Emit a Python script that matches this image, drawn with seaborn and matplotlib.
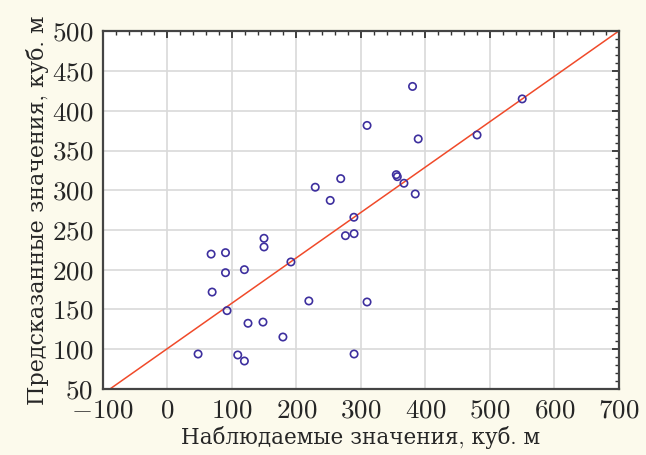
import matplotlib
matplotlib.use("Agg")
import matplotlib.pyplot as plt
import seaborn as sns
import pandas as pd
from matplotlib.ticker import MultipleLocator

observed = [47.8, 68.0, 69.6, 90.3, 90.3, 92.7, 109.3, 119.6, 119.6, 125.2,
            150.0, 150.0, 148.4, 179.3, 191.7, 219.5, 229.4, 252.6, 268.9, 276.2,
            289.3, 289.6, 289.6, 309.7, 309.7, 355.0, 356.6, 366.9, 384.4, 380.2,
            389.0, 480.2, 550.2]
predicted = [93.8, 219.6, 171.8, 221.4, 196.2, 148.4, 92.6, 85.0, 200.0, 132.5,
             239.5, 228.6, 134.0, 115.2, 209.7, 160.6, 303.8, 287.2, 314.6, 242.8,
             266.0, 245.3, 93.8, 381.6, 159.3, 319.6, 317.1, 308.8, 295.3, 430.7,
             364.6, 369.6, 415.0]
fit_intercept = 100.5
fit_slope = 0.5715
xlabel = "Наблюдаемые значения, куб. м"
ylabel = "Предсказанные значения, куб. м"

df = pd.DataFrame({"obs": observed, "pred": predicted})

sns.set_style("white")
plt.rcParams["font.family"] = ["cmr10", "DejaVu Serif"]
plt.rcParams["axes.formatter.use_mathtext"] = True
plt.rcParams["mathtext.fontset"] = "cm"

fig = plt.figure(figsize=(6.46, 4.55), dpi=100, facecolor="#fcfaec")
ax = fig.add_axes([0.159, 0.1455, 0.799, 0.7855])
ax.set_facecolor("white")

ax.axline((0, fit_intercept), slope=fit_slope, color="#f04a2a", lw=1.1, zorder=2)
sns.scatterplot(data=df, x="obs", y="pred", ax=ax, marker="o", s=28,
                facecolor="none", edgecolor="#3d2f9e", linewidth=1.2, zorder=3)

ax.set_xlim(-100, 700)
ax.set_ylim(50, 500)
ax.xaxis.set_major_locator(MultipleLocator(100))
ax.xaxis.set_minor_locator(MultipleLocator(20))
ax.yaxis.set_major_locator(MultipleLocator(50))
ax.yaxis.set_minor_locator(MultipleLocator(10))
ax.grid(True, which="major", color="#d9d9d9", lw=1.2, zorder=0)
ax.set_axisbelow(True)
ax.tick_params(which="both", direction="in", top=True, right=True,
               color="#333333", labelsize=19.5)
ax.tick_params(axis="y", pad=7)
ax.tick_params(axis="x", pad=7.5)
ax.tick_params(which="major", length=5, width=1.3)
ax.tick_params(which="minor", length=3, width=1.0)
for s in ax.spines.values():
    s.set_color("#444444")
    s.set_linewidth(1.6)

ax.set_xlabel(xlabel, fontsize=15.5, labelpad=2)
ax.set_ylabel(ylabel, fontsize=16, labelpad=2)

fig.savefig("out.png", dpi=100, facecolor=fig.get_facecolor())
